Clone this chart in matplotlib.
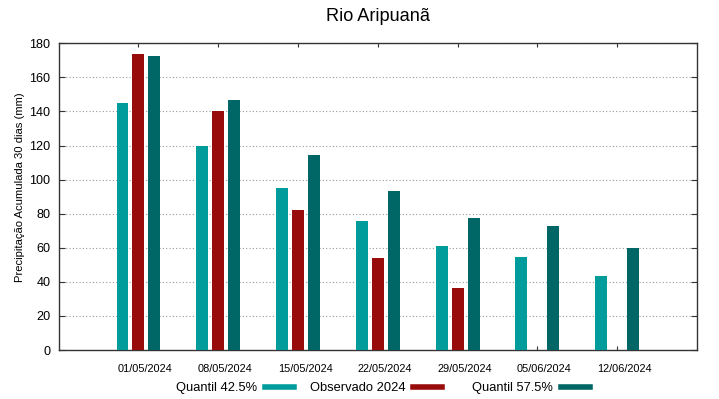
import numpy as np
import matplotlib
matplotlib.use('Agg')
import matplotlib.pyplot as plt
import matplotlib.transforms as mtransforms
from matplotlib.lines import Line2D

plt.rcParams['font.family'] = ['Liberation Sans', 'DejaVu Sans']

# dados
datas = ['01/05/2024', '08/05/2024', '15/05/2024', '22/05/2024',
         '29/05/2024', '05/06/2024', '12/06/2024']
q425 = [145, 120, 95, 76, 61, 54.5, 43.5]
obs2024 = [174, 140, 82, 54, 36.5, np.nan, np.nan]
q575 = [172.5, 146.5, 114.5, 93.5, 77.5, 73, 60]

series = ['Quantil 42.5%', 'Observado 2024', 'Quantil 57.5%']
cores = ['#009b9b', '#990c0c', '#006666']

W, H = 719, 399
fig = plt.figure(figsize=(W / 100, H / 100), dpi=100)
ax = fig.add_axes([0.0816, 0.1228, 0.8878, 0.7687])

x = np.arange(len(datas))
w = 0.15
ax.bar(x - 0.2, q425, w, color=cores[0], zorder=3)
ax.bar(x, obs2024, w, color=cores[1], zorder=3)
ax.bar(x + 0.2, q575, w, color=cores[2], zorder=3)

ax.set_xlim(-1, 7)
ax.set_ylim(0, 180)
ax.set_yticks(range(0, 181, 20))
ax.set_xticks(x)
ax.set_xticklabels(datas, fontsize=7.9)
ax.tick_params(axis='x', direction='in', length=3, top=True, pad=10, color='#333333')
ax.tick_params(axis='y', direction='in', length=4, right=True, labelsize=9.1, pad=6, color='#333333')
# rotulos do eixo x ficam um pouco a direita dos ticks (como no original)
desloc = mtransforms.ScaledTranslation(0.07, 0, fig.dpi_scale_trans)
for lbl in ax.get_xticklabels():
    lbl.set_transform(lbl.get_transform() + desloc)
ax.yaxis.grid(True, linestyle=(0, (1, 2)), color='#999999', linewidth=0.8, zorder=0)
for s in ax.spines.values():
    s.set_color('#333333')
    s.set_linewidth(1.0)

ax.set_ylabel('Precipitação Acumulada 30 dias (mm)', fontsize=8.1)
ax.yaxis.set_label_coords(-0.053, 0.532)
ax.set_title('Rio Aripuanã', fontsize=13.1, pad=16)

# legenda estilo gnuplot: texto e depois a amostra de cor
fim_amostra = [294, 442, 590]
for nome, cor, xf in zip(series, cores, fim_amostra):
    leg = fig.legend([Line2D([], [], color=cor, lw=4)], [nome],
                     loc='center right', bbox_to_anchor=(xf / W, 1 - 388 / H),
                     frameon=False, markerfirst=False, fontsize=9.3,
                     handlelength=2.25, handletextpad=0.6,
                     borderpad=0, borderaxespad=0)

fig.savefig('out.png', dpi=100)
